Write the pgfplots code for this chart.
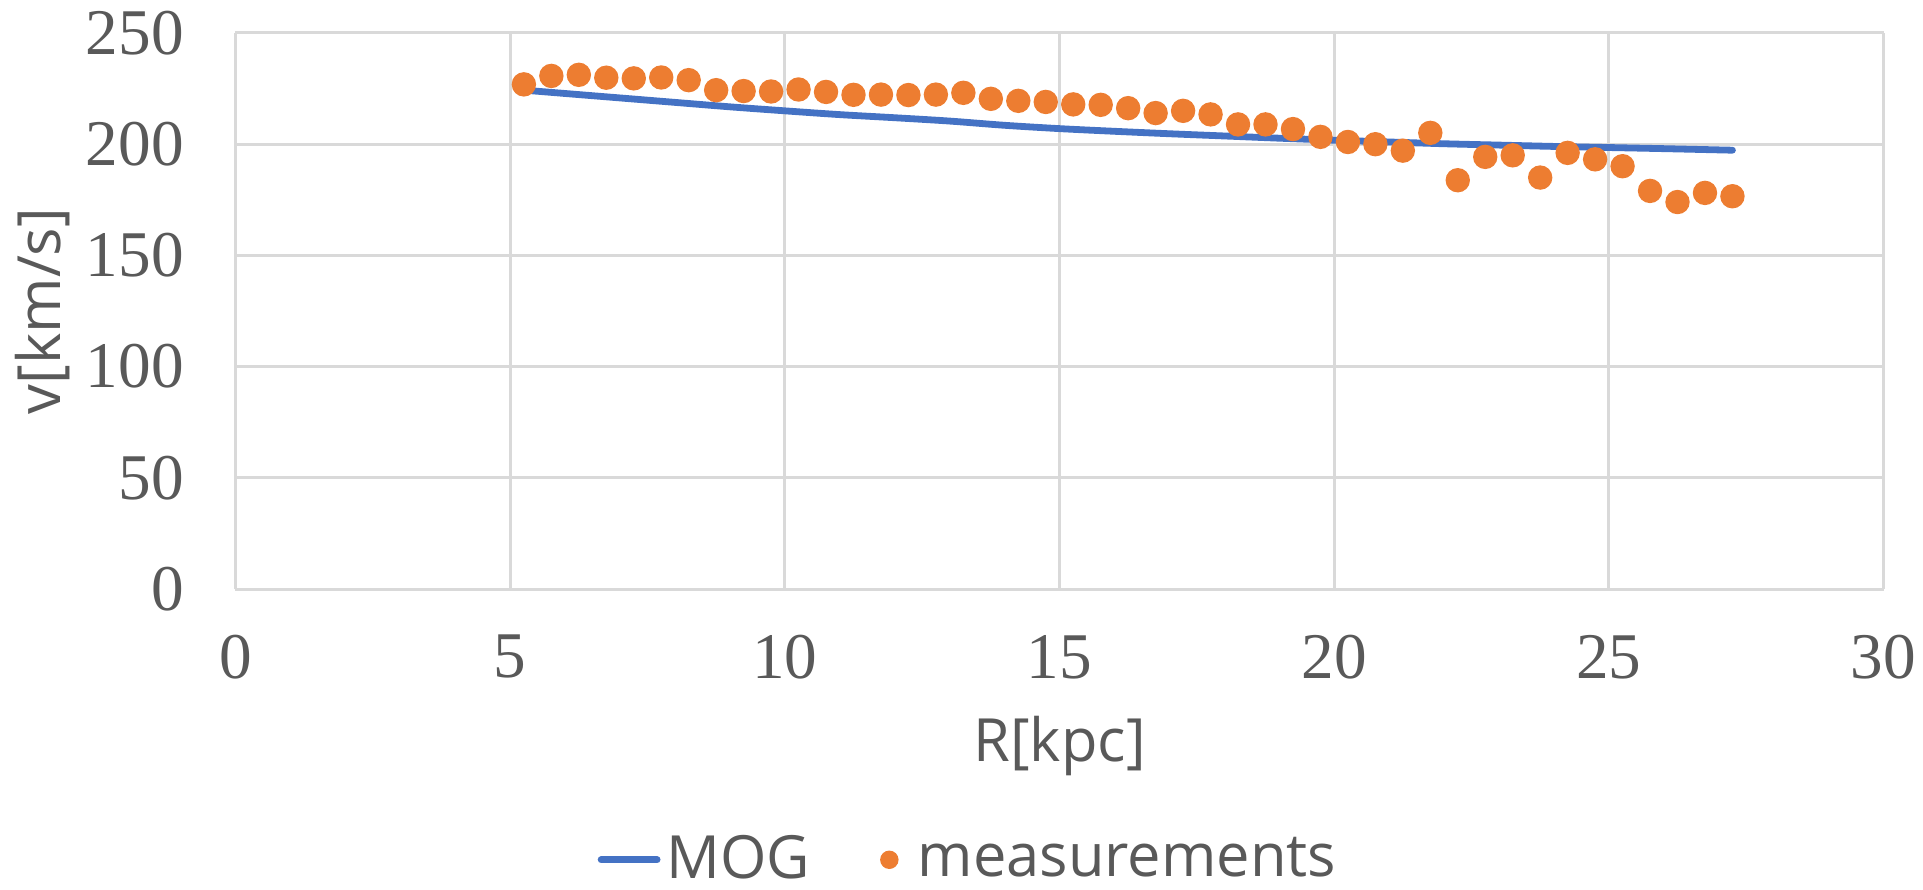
\documentclass[border=0pt]{standalone}
\usepackage{pgfplots}
\pgfplotsset{compat=1.18}
\usepackage{fontspec}
\setmainfont{Liberation Serif}
\newfontfamily\labelfont{Open Sans}
\definecolor{txtgray}{HTML}{595959}
\definecolor{gridgray}{HTML}{D9D9D9}
\definecolor{mogblue}{HTML}{4472C4}
\definecolor{measorange}{HTML}{ED7D31}

\begin{document}
\begin{tikzpicture}
\begin{axis}[
  scale only axis, width=412pt, height=139pt,
  xmin=0, xmax=30, ymin=0, ymax=250,
  xtick={0,5,...,30}, ytick={0,50,...,250},
  grid=major, major grid style={gridgray, line width=0.75pt},
  axis line style={draw=none}, tick style={draw=none},
  ticklabel style={font=\fontsize{16.3}{18}\selectfont, text=txtgray,
    /pgf/number format/assume math mode=true},
  xticklabel style={yshift=-8.0pt},
  yticklabel style={xshift=-9.4pt},
  xlabel={R[kpc]}, ylabel={v[km/s]},
  every axis x label/.style={at={(axis description cs:0.5,-0.282)}, anchor=center,
    font=\labelfont\fontsize{14.9}{17}\selectfont, text=txtgray},
  every axis y label/.style={at={(axis description cs:-0.117,0.5)}, rotate=90, anchor=center,
    font=\labelfont\fontsize{14.9}{17}\selectfont, text=txtgray},
  legend style={draw=none, fill=none, at={(axis description cs:0.4457,-0.487)}, anchor=center,
    legend columns=2, font=\labelfont\fontsize{14.9}{17}\selectfont, text=txtgray,
    nodes={inner sep=1.5pt},
    /tikz/every even column/.append style={column sep=16pt}},
]
\addplot[mogblue, line width=1.7pt, line cap=round, smooth,
  legend image code/.code={\draw[line width=1.7pt, line cap=round] (0pt,0pt) -- (14pt,0pt);}]
  coordinates {
  (5.25,224.3) (6,222.8) (7,220.8) (8,218.8) (9,216.8) (10,215.0)
  (11,213.3) (12,211.9) (13,210.4) (14,208.5) (15,207.0) (16,205.8)
  (17,204.7) (18,203.7) (19,202.7) (20,201.8) (21,201.0) (22,200.2)
  (23,199.6) (24,199.0) (25,198.5) (26,198.0) (27.25,197.3)};
\addlegendentry{MOG}
\addplot[only marks, mark=*, mark size=2.85pt, measorange,
  mark options={fill=measorange, draw=measorange},
  legend image code/.code={\path[draw=none, fill=none] (1.9pt,0pt) -- (9.6pt,0pt);
    \fill[measorange] (4pt,0pt) circle (2.1pt);}]
  coordinates {
  (5.25,226.9) (5.75,230.7) (6.25,231.2) (6.75,229.9) (7.25,229.6)
  (7.75,230.0) (8.25,228.8) (8.75,224.3) (9.25,223.9) (9.75,223.7)
  (10.25,224.6) (10.75,223.5) (11.25,222.2) (11.75,222.3) (12.25,222.1)
  (12.75,222.3) (13.25,223.1) (13.75,220.4) (14.25,219.5) (14.75,219.0)
  (15.25,217.9) (15.75,217.7) (16.25,216.2) (16.75,214.0) (17.25,215.0)
  (17.75,213.4) (18.25,208.9) (18.75,208.9) (19.25,206.8) (19.75,203.3)
  (20.25,201.0) (20.75,200.0) (21.25,197.1) (21.75,205.1) (22.25,183.8)
  (22.75,194.3) (23.25,195.0) (23.75,185.0) (24.25,196.1) (24.75,193.2)
  (25.25,190.1) (25.75,179.0) (26.25,174.0) (26.75,178.1) (27.25,176.6)};
\addlegendentry{measurements}
\end{axis}
\pgfresetboundingbox
\path (-58.875pt,-75pt) rectangle (421.875pt,147.25pt);
\end{tikzpicture}
\end{document}
